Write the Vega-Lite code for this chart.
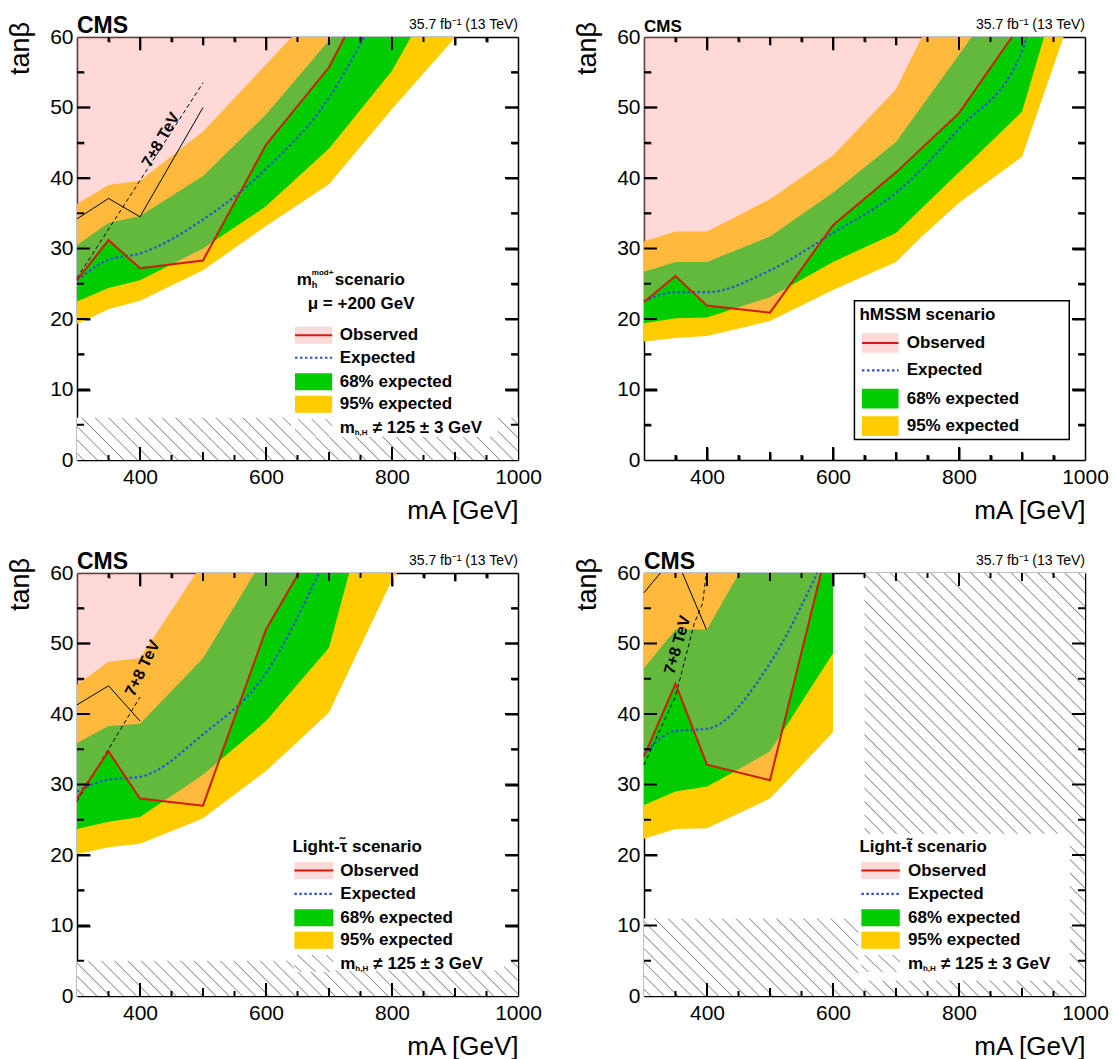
{
"$schema": "https://vega.github.io/schema/vega-lite/v6.json",
"padding": {"left": 7, "top": 15, "right": 5, "bottom": 5},
"background": "white",
"config": {"font": "Liberation Sans", "view": {"stroke": null}, "axis": {"labelFont": "Liberation Sans", "titleFont": "Liberation Sans", "labelColor": "black", "titleColor": "black", "domainColor": "black", "domainWidth": 1.5, "tickColor": "black", "tickWidth": 2, "grid": false, "zindex": 1}},
"datasets": {
"bands": [
{"p":1,"b":95,"m":300,"lo":19.3,"hi":36.3},{"p":1,"b":95,"m":350,"lo":21.4,"hi":39.0},{"p":1,"b":95,"m":400,"lo":22.6,"hi":39.6},{"p":1,"b":95,"m":500,"lo":26.9,"hi":46.6},{"p":1,"b":95,"m":600,"lo":33.2,"hi":56.1},{"p":1,"b":95,"m":641,"lo":35.6,"hi":60},{"p":1,"b":95,"m":700,"lo":39.1,"hi":60},{"p":1,"b":95,"m":800,"lo":49.8,"hi":60},{"p":1,"b":95,"m":901,"lo":60,"hi":60},
{"p":1,"b":68,"m":300,"lo":22.5,"hi":30.5},{"p":1,"b":68,"m":350,"lo":24.4,"hi":33.6},{"p":1,"b":68,"m":400,"lo":25.5,"hi":34.6},{"p":1,"b":68,"m":500,"lo":30.0,"hi":40.3},{"p":1,"b":68,"m":600,"lo":36.0,"hi":49.0},{"p":1,"b":68,"m":700,"lo":44.2,"hi":59.5},{"p":1,"b":68,"m":705,"lo":44.7,"hi":60},{"p":1,"b":68,"m":800,"lo":55.2,"hi":60},{"p":1,"b":68,"m":830,"lo":60,"hi":60},
{"p":2,"b":95,"m":300,"lo":16.8,"hi":31},{"p":2,"b":95,"m":350,"lo":17.3,"hi":32.4},{"p":2,"b":95,"m":400,"lo":17.6,"hi":32.4},{"p":2,"b":95,"m":500,"lo":19.7,"hi":37},{"p":2,"b":95,"m":600,"lo":24.1,"hi":43.2},{"p":2,"b":95,"m":700,"lo":28.1,"hi":52.6},{"p":2,"b":95,"m":741,"lo":31.7,"hi":60},{"p":2,"b":95,"m":800,"lo":36.5,"hi":60},{"p":2,"b":95,"m":900,"lo":43,"hi":60},{"p":2,"b":95,"m":966,"lo":60,"hi":60},
{"p":2,"b":68,"m":300,"lo":19.4,"hi":26.7},{"p":2,"b":68,"m":350,"lo":20.1,"hi":28.1},{"p":2,"b":68,"m":400,"lo":20.2,"hi":28.1},{"p":2,"b":68,"m":500,"lo":23.1,"hi":31.7},{"p":2,"b":68,"m":600,"lo":28.1,"hi":37.9},{"p":2,"b":68,"m":700,"lo":32.2,"hi":45.1},{"p":2,"b":68,"m":800,"lo":40.8,"hi":57.5},{"p":2,"b":68,"m":820,"lo":42.5,"hi":60},{"p":2,"b":68,"m":900,"lo":49.4,"hi":60},{"p":2,"b":68,"m":935,"lo":60,"hi":60},
{"p":3,"b":95,"m":300,"lo":20.1,"hi":44.1},{"p":3,"b":95,"m":350,"lo":21.1,"hi":47.4},{"p":3,"b":95,"m":400,"lo":21.6,"hi":47.9},{"p":3,"b":95,"m":489,"lo":24.8,"hi":60},{"p":3,"b":95,"m":500,"lo":25.2,"hi":60},{"p":3,"b":95,"m":600,"lo":31.9,"hi":60},{"p":3,"b":95,"m":700,"lo":40.2,"hi":60},{"p":3,"b":95,"m":800,"lo":59,"hi":60},{"p":3,"b":95,"m":808,"lo":60,"hi":60},
{"p":3,"b":68,"m":300,"lo":23.7,"hi":35.9},{"p":3,"b":68,"m":350,"lo":24.7,"hi":38.3},{"p":3,"b":68,"m":400,"lo":25.4,"hi":38.6},{"p":3,"b":68,"m":500,"lo":31.4,"hi":47.9},{"p":3,"b":68,"m":582,"lo":37.6,"hi":60},{"p":3,"b":68,"m":600,"lo":39,"hi":60},{"p":3,"b":68,"m":700,"lo":49.4,"hi":60},{"p":3,"b":68,"m":732,"lo":60,"hi":60},
{"p":4,"b":95,"m":300,"lo":22.3,"hi":60},{"p":4,"b":95,"m":350,"lo":23.7,"hi":60},{"p":4,"b":95,"m":400,"lo":23.8,"hi":60},{"p":4,"b":95,"m":500,"lo":28,"hi":60},{"p":4,"b":95,"m":600,"lo":37.4,"hi":60},
{"p":4,"b":68,"m":300,"lo":27.1,"hi":46.5},{"p":4,"b":68,"m":350,"lo":29,"hi":52},{"p":4,"b":68,"m":400,"lo":29.7,"hi":52},{"p":4,"b":68,"m":451,"lo":32.2,"hi":60},{"p":4,"b":68,"m":500,"lo":34.7,"hi":60},{"p":4,"b":68,"m":600,"lo":48.6,"hi":60}
],
"obs": [
{"p":1,"m":300,"t":25.5},{"p":1,"m":350,"t":31.2},{"p":1,"m":400,"t":27.2},{"p":1,"m":500,"t":28.3},{"p":1,"m":600,"t":44.7},{"p":1,"m":700,"t":55.7},{"p":1,"m":725,"t":60},
{"p":2,"m":300,"t":22.4},{"p":2,"m":350,"t":26.1},{"p":2,"m":400,"t":21.9},{"p":2,"m":500,"t":20.9},{"p":2,"m":600,"t":33.3},{"p":2,"m":700,"t":40.8},{"p":2,"m":800,"t":49.2},{"p":2,"m":884,"t":60},
{"p":3,"m":300,"t":28},{"p":3,"m":350,"t":34.7},{"p":3,"m":400,"t":28},{"p":3,"m":500,"t":27},{"p":3,"m":600,"t":52},{"p":3,"m":652,"t":60},
{"p":4,"m":300,"t":34},{"p":4,"m":350,"t":44.3},{"p":4,"m":400,"t":32.8},{"p":4,"m":500,"t":30.6},{"p":4,"m":581,"t":60}
],
"exp": [
{"p":1,"m":300,"t":25.5},{"p":1,"m":350,"t":28.4},{"p":1,"m":400,"t":29.3},{"p":1,"m":500,"t":34.1},{"p":1,"m":600,"t":41.3},{"p":1,"m":700,"t":51.4},{"p":1,"m":756,"t":60},
{"p":2,"m":300,"t":22.5},{"p":2,"m":350,"t":23.8},{"p":2,"m":400,"t":23.8},{"p":2,"m":500,"t":26.9},{"p":2,"m":600,"t":32.2},{"p":2,"m":700,"t":37.9},{"p":2,"m":800,"t":47},{"p":2,"m":900,"t":58},{"p":2,"m":907,"t":60},
{"p":3,"m":300,"t":29},{"p":3,"m":350,"t":30.7},{"p":3,"m":400,"t":31.1},{"p":3,"m":500,"t":37.1},{"p":3,"m":600,"t":45.8},{"p":3,"m":684,"t":60},
{"p":4,"m":300,"t":34.3},{"p":4,"m":350,"t":37.6},{"p":4,"m":400,"t":37.9},{"p":4,"m":500,"t":47.2},{"p":4,"m":575,"t":60}
],
"old": [
{"p":1,"k":"s","m":300,"t":34.2},{"p":1,"k":"s","m":350,"t":37.1},{"p":1,"k":"s","m":400,"t":34.5},{"p":1,"k":"s","m":500,"t":50},
{"p":1,"k":"d","m":300,"t":25.8},{"p":1,"k":"d","m":500,"t":53.5},
{"p":3,"k":"s","m":300,"t":41.3},{"p":3,"k":"s","m":350,"t":44},{"p":3,"k":"s","m":400,"t":39},
{"p":3,"k":"d","m":300,"t":27.6},{"p":3,"k":"d","m":400,"t":42.4},
{"p":4,"k":"s1","m":300,"t":57.2},{"p":4,"k":"s1","m":326,"t":60},
{"p":4,"k":"s2","m":361,"t":60},{"p":4,"k":"s2","m":399,"t":52},
{"p":4,"k":"d","m":300,"t":32.8},{"p":4,"k":"d","m":350,"t":42.5},{"p":4,"k":"d","m":380,"t":52.9},{"p":4,"k":"d","m":393,"t":55.7},{"p":4,"k":"d","m":399,"t":60}
],
"hatch": [
{"r":"a","m1":300,"m2":1000,"t1":0,"t2":6},
{"r":"c","m1":300,"m2":1000,"t1":0,"t2":5},
{"r":"d1","m1":300,"m2":650,"t1":0,"t2":11},
{"r":"d2","m1":650,"m2":1000,"t1":0,"t2":60}
]
},
"columns": 2,
"bounds": "flush",
"spacing": {"row": 113, "column": 126},
"concat": [
{
"width": 441, "height": 423,
"resolve": {"axis": {"x": "independent", "y": "independent"}},
"layer": [
{"data": {"name": "hatch"}, "transform": [{"filter": "datum.r == 'a'"}],
 "mark": {"type": "rect", "fill": {"gradient": "linear", "x1": 0, "y1": 1, "x2": 1.0859, "y2": 0.8959, "stops": [
{"offset":0.0114,"color":"#fff"},{"offset":0.0139,"color":"#8c8c8c"},{"offset":0.0164,"color":"#fff"},
{"offset":0.0392,"color":"#fff"},{"offset":0.0417,"color":"#8c8c8c"},{"offset":0.0442,"color":"#fff"},
{"offset":0.0669,"color":"#fff"},{"offset":0.0694,"color":"#8c8c8c"},{"offset":0.0719,"color":"#fff"},
{"offset":0.0947,"color":"#fff"},{"offset":0.0972,"color":"#8c8c8c"},{"offset":0.0997,"color":"#fff"},
{"offset":0.1225,"color":"#fff"},{"offset":0.1250,"color":"#8c8c8c"},{"offset":0.1275,"color":"#fff"},
{"offset":0.1503,"color":"#fff"},{"offset":0.1528,"color":"#8c8c8c"},{"offset":0.1553,"color":"#fff"},
{"offset":0.1781,"color":"#fff"},{"offset":0.1806,"color":"#8c8c8c"},{"offset":0.1831,"color":"#fff"},
{"offset":0.2058,"color":"#fff"},{"offset":0.2083,"color":"#8c8c8c"},{"offset":0.2108,"color":"#fff"},
{"offset":0.2336,"color":"#fff"},{"offset":0.2361,"color":"#8c8c8c"},{"offset":0.2386,"color":"#fff"},
{"offset":0.2614,"color":"#fff"},{"offset":0.2639,"color":"#8c8c8c"},{"offset":0.2664,"color":"#fff"},
{"offset":0.2892,"color":"#fff"},{"offset":0.2917,"color":"#8c8c8c"},{"offset":0.2942,"color":"#fff"},
{"offset":0.3169,"color":"#fff"},{"offset":0.3194,"color":"#8c8c8c"},{"offset":0.3219,"color":"#fff"},
{"offset":0.3447,"color":"#fff"},{"offset":0.3472,"color":"#8c8c8c"},{"offset":0.3497,"color":"#fff"},
{"offset":0.3725,"color":"#fff"},{"offset":0.3750,"color":"#8c8c8c"},{"offset":0.3775,"color":"#fff"},
{"offset":0.4003,"color":"#fff"},{"offset":0.4028,"color":"#8c8c8c"},{"offset":0.4053,"color":"#fff"},
{"offset":0.4281,"color":"#fff"},{"offset":0.4306,"color":"#8c8c8c"},{"offset":0.4331,"color":"#fff"},
{"offset":0.4558,"color":"#fff"},{"offset":0.4583,"color":"#8c8c8c"},{"offset":0.4608,"color":"#fff"},
{"offset":0.4836,"color":"#fff"},{"offset":0.4861,"color":"#8c8c8c"},{"offset":0.4886,"color":"#fff"},
{"offset":0.5114,"color":"#fff"},{"offset":0.5139,"color":"#8c8c8c"},{"offset":0.5164,"color":"#fff"},
{"offset":0.5392,"color":"#fff"},{"offset":0.5417,"color":"#8c8c8c"},{"offset":0.5442,"color":"#fff"},
{"offset":0.5669,"color":"#fff"},{"offset":0.5694,"color":"#8c8c8c"},{"offset":0.5719,"color":"#fff"},
{"offset":0.5947,"color":"#fff"},{"offset":0.5972,"color":"#8c8c8c"},{"offset":0.5997,"color":"#fff"},
{"offset":0.6225,"color":"#fff"},{"offset":0.6250,"color":"#8c8c8c"},{"offset":0.6275,"color":"#fff"},
{"offset":0.6503,"color":"#fff"},{"offset":0.6528,"color":"#8c8c8c"},{"offset":0.6553,"color":"#fff"},
{"offset":0.6781,"color":"#fff"},{"offset":0.6806,"color":"#8c8c8c"},{"offset":0.6831,"color":"#fff"},
{"offset":0.7058,"color":"#fff"},{"offset":0.7083,"color":"#8c8c8c"},{"offset":0.7108,"color":"#fff"},
{"offset":0.7336,"color":"#fff"},{"offset":0.7361,"color":"#8c8c8c"},{"offset":0.7386,"color":"#fff"},
{"offset":0.7614,"color":"#fff"},{"offset":0.7639,"color":"#8c8c8c"},{"offset":0.7664,"color":"#fff"},
{"offset":0.7892,"color":"#fff"},{"offset":0.7917,"color":"#8c8c8c"},{"offset":0.7942,"color":"#fff"},
{"offset":0.8169,"color":"#fff"},{"offset":0.8194,"color":"#8c8c8c"},{"offset":0.8219,"color":"#fff"},
{"offset":0.8447,"color":"#fff"},{"offset":0.8472,"color":"#8c8c8c"},{"offset":0.8497,"color":"#fff"},
{"offset":0.8725,"color":"#fff"},{"offset":0.8750,"color":"#8c8c8c"},{"offset":0.8775,"color":"#fff"},
{"offset":0.9003,"color":"#fff"},{"offset":0.9028,"color":"#8c8c8c"},{"offset":0.9053,"color":"#fff"},
{"offset":0.9281,"color":"#fff"},{"offset":0.9306,"color":"#8c8c8c"},{"offset":0.9331,"color":"#fff"},
{"offset":0.9558,"color":"#fff"},{"offset":0.9583,"color":"#8c8c8c"},{"offset":0.9608,"color":"#fff"},
{"offset":0.9836,"color":"#fff"},{"offset":0.9861,"color":"#8c8c8c"},{"offset":0.9886,"color":"#fff"}]}},
 "encoding": {"x": {"field": "m1", "type": "quantitative", "axis": null}, "x2": {"field": "m2"}, "y": {"field": "t1", "type": "quantitative", "axis": null}, "y2": {"field": "t2"}}},
{"data": {"name": "bands"}, "transform": [{"filter": "datum.p == 1 && datum.b == 95"}],
 "mark": {"type": "area", "color": "#ffcc00"},
 "encoding": {
  "x": {"field": "m", "type": "quantitative", "scale": {"domain": [300, 1000], "nice": false, "zero": false},
   "axis": {"orient": "bottom", "values": [400,600,800,1000], "format": "d", "ticks": false, "domain": true, "labelPadding": 6, "labelFontSize": 21, "labelFlush": false, "labelOverlap": false, "title": "mA [GeV]", "titleFontSize": 26, "titleFontWeight": "normal", "titleAnchor": "end", "titleAlign": "right", "titleBaseline": "alphabetic", "titleX": 441, "titleY": 58}},
  "y": {"field": "lo", "type": "quantitative", "scale": {"domain": [0, 60], "nice": false, "zero": false},
   "axis": {"orient": "left", "values": [0,10,20,30,40,50,60], "ticks": false, "domain": true, "labelPadding": 4, "labelFontSize": 21, "labelFlush": false, "labelOverlap": false, "title": null}},
  "y2": {"field": "hi"}}},
{"data": {"name": "bands"}, "transform": [{"filter": "datum.p == 1 && datum.b == 68"}],
 "mark": {"type": "area", "color": "#00cc00"},
 "encoding": {
  "x": {"field": "m", "type": "quantitative", "axis": {"orient": "top", "domain": true, "ticks": false, "labels": false, "title": null}},
  "y": {"field": "lo", "type": "quantitative", "axis": {"orient": "right", "domain": true, "ticks": false, "labels": false, "title": null}},
  "y2": {"field": "hi"}}},
{"data": {"name": "obs"}, "transform": [{"filter": "datum.p == 1"}],
 "mark": {"type": "area", "color": "#ff9b9b", "opacity": 0.39},
 "encoding": {"x": {"field": "m", "type": "quantitative", "axis": {"orient": "bottom", "values": [400,600,800], "offset": -13, "tickSize": 13, "domain": false, "labels": false, "title": null}}, "y": {"field": "t", "type": "quantitative", "axis": {"orient": "left", "values": [10,20,30,40,50], "offset": -13, "tickSize": 13, "domain": false, "labels": false, "title": null}}, "y2": {"datum": 60}}},
{"data": {"name": "old"}, "transform": [{"filter": "datum.p == 1 && datum.k != 'd'"}],
 "mark": {"type": "line", "color": "black", "strokeWidth": 1},
 "encoding": {"x": {"field": "m", "type": "quantitative", "axis": null}, "y": {"field": "t", "type": "quantitative", "axis": null}, "detail": {"field": "k"}}},
{"data": {"name": "old"}, "transform": [{"filter": "datum.p == 1 && datum.k == 'd'"}],
 "mark": {"type": "line", "color": "black", "strokeWidth": 1, "strokeDash": [4, 3]},
 "encoding": {"x": {"field": "m", "type": "quantitative", "axis": null}, "y": {"field": "t", "type": "quantitative", "axis": null}}},
{"data": {"name": "exp"}, "transform": [{"filter": "datum.p == 1"}],
 "mark": {"type": "line", "color": "#2850d8", "strokeWidth": 2.2, "strokeDash": [2.5, 2.5], "interpolate": "monotone"},
 "encoding": {"x": {"field": "m", "type": "quantitative", "axis": {"orient": "bottom", "values": [500,700,900], "offset": -8, "tickSize": 8, "domain": false, "labels": false, "title": null}}, "y": {"field": "t", "type": "quantitative", "axis": {"orient": "left", "values": [5,15,25,35,45,55], "offset": -7, "tickSize": 7, "domain": false, "labels": false, "title": null}}}},
{"data": {"name": "obs"}, "transform": [{"filter": "datum.p == 1"}],
 "mark": {"type": "line", "color": "#d01c0c", "strokeWidth": 2},
 "encoding": {"x": {"field": "m", "type": "quantitative", "axis": {"orient": "top", "values": [400,600,800], "offset": -13, "tickSize": 13, "domain": false, "labels": false, "title": null}}, "y": {"field": "t", "type": "quantitative", "axis": {"orient": "right", "values": [10,20,30,40,50], "offset": -13, "tickSize": 13, "domain": false, "labels": false, "title": null}}}},
{"data": {"values": [{}]}, "mark": {"type": "text", "text": "7+8 TeV", "angle": -60, "fontWeight": "bold", "fontSize": 16, "align": "center", "baseline": "middle"}, "encoding": {"x": {"datum": 433, "axis": {"orient": "top", "values": [500,700,900], "offset": -8, "tickSize": 8, "domain": false, "labels": false, "title": null}}, "y": {"datum": 45.4, "axis": {"orient": "right", "values": [5,15,25,35,45,55], "offset": -7, "tickSize": 7, "domain": false, "labels": false, "title": null}}}},
{"data": {"values": [{}]}, "mark": {"type": "text", "text": "CMS", "fontWeight": "bold", "fontSize": 23, "align": "left", "baseline": "alphabetic", "dy": -4}, "encoding": {"x": {"datum": 300, "axis": {"orient": "bottom", "values": [350,450,550,650,750,850,950], "offset": -5, "tickSize": 5, "domain": false, "labels": false, "title": null}}, "y": {"datum": 60, "axis": null}}},
{"data": {"values": [{}]}, "mark": {"type": "text", "text": "35.7 fb⁻¹ (13 TeV)", "fontSize": 14, "align": "right", "baseline": "alphabetic", "dy": -8}, "encoding": {"x": {"datum": 1000, "axis": {"orient": "top", "values": [350,450,550,650,750,850,950], "offset": -5, "tickSize": 5, "domain": false, "labels": false, "title": null}}, "y": {"datum": 60, "axis": null}}},
{"data": {"values": [{}]}, "mark": {"type": "text", "text": "tanβ", "fontSize": 27, "angle": -90, "align": "right", "baseline": "alphabetic"}, "encoding": {"x": {"datum": 224, "axis": null}, "y": {"datum": 62.13, "axis": null}}},
{"data": {"values": [{}]}, "mark": {"type": "rect", "fill": "white"}, "encoding": {"x": {"datum": 640, "axis": null}, "x2": {"datum": 968}, "y": {"datum": 3.3, "axis": null}, "y2": {"datum": 27.5}}},
{"data": {"values": [{}]}, "mark": {"type": "rect", "fill": "#ff9b9b", "opacity": 0.39}, "encoding": {"x": {"datum": 646, "axis": null}, "x2": {"datum": 705}, "y": {"datum": 16.5, "axis": null}, "y2": {"datum": 18.9}}},
{"data": {"values": [{}]}, "mark": {"type": "rule", "color": "#d01c0c", "strokeWidth": 2}, "encoding": {"x": {"datum": 646, "axis": null}, "x2": {"datum": 705}, "y": {"datum": 17.7, "axis": null}}},
{"data": {"values": [{}]}, "mark": {"type": "rule", "color": "#2850d8", "strokeWidth": 2.2, "strokeDash": [2.5, 2.5]}, "encoding": {"x": {"datum": 646, "axis": null}, "x2": {"datum": 705}, "y": {"datum": 14.5, "axis": null}}},
{"data": {"values": [{}]}, "mark": {"type": "rect", "fill": "#00cc00"}, "encoding": {"x": {"datum": 646, "axis": null}, "x2": {"datum": 705}, "y": {"datum": 9.9, "axis": null}, "y2": {"datum": 12.3}}},
{"data": {"values": [{}]}, "mark": {"type": "rect", "fill": "#ffcc00"}, "encoding": {"x": {"datum": 646, "axis": null}, "x2": {"datum": 705}, "y": {"datum": 6.7, "axis": null}, "y2": {"datum": 9.1}}},
{"data": {"values": [{}]}, "mark": {"type": "rect", "fill": {"gradient": "linear", "x1": 0, "y1": 1, "x2": 1.205, "y2": 0.447, "stops": [{"offset":0.103,"color":"#fff"},{"offset":0.125,"color":"#8a8fb0"},{"offset":0.147,"color":"#fff"},{"offset":0.353,"color":"#fff"},{"offset":0.375,"color":"#8a8fb0"},{"offset":0.397,"color":"#fff"},{"offset":0.603,"color":"#fff"},{"offset":0.625,"color":"#8a8fb0"},{"offset":0.647,"color":"#fff"},{"offset":0.853,"color":"#fff"},{"offset":0.875,"color":"#8a8fb0"},{"offset":0.897,"color":"#fff"}]}}, "encoding": {"x": {"datum": 646, "axis": null}, "x2": {"datum": 705}, "y": {"datum": 3.4, "axis": null}, "y2": {"datum": 5.8}}},
{"data": {"values": [{}]}, "mark": {"type": "text", "text": "m", "fontWeight": "bold", "fontSize": 17, "align": "left", "baseline": "middle"}, "encoding": {"x": {"datum": 649, "axis": null}, "y": {"datum": 25.5, "axis": null}}},
{"data": {"values": [{}]}, "mark": {"type": "text", "text": "h", "fontWeight": "bold", "fontSize": 9, "align": "left", "baseline": "middle", "dx": 15, "dy": 5}, "encoding": {"x": {"datum": 649, "axis": null}, "y": {"datum": 25.5, "axis": null}}},
{"data": {"values": [{}]}, "mark": {"type": "text", "text": "mod+", "fontWeight": "bold", "fontSize": 8, "align": "left", "baseline": "middle", "dx": 15, "dy": -7}, "encoding": {"x": {"datum": 649, "axis": null}, "y": {"datum": 25.5, "axis": null}}},
{"data": {"values": [{}]}, "mark": {"type": "text", "text": "scenario", "fontWeight": "bold", "fontSize": 17, "align": "left", "baseline": "middle", "dx": 38}, "encoding": {"x": {"datum": 649, "axis": null}, "y": {"datum": 25.5, "axis": null}}},
{"data": {"values": [{}]}, "mark": {"type": "text", "text": "μ = +200 GeV", "fontWeight": "bold", "fontSize": 17, "align": "center", "baseline": "middle"}, "encoding": {"x": {"datum": 751, "axis": null}, "y": {"datum": 22.1, "axis": null}}},
{"data": {"values": [{}]}, "mark": {"type": "text", "text": "Observed", "fontWeight": "bold", "fontSize": 17, "align": "left", "baseline": "middle"}, "encoding": {"x": {"datum": 717, "axis": null}, "y": {"datum": 17.7, "axis": null}}},
{"data": {"values": [{}]}, "mark": {"type": "text", "text": "Expected", "fontWeight": "bold", "fontSize": 17, "align": "left", "baseline": "middle"}, "encoding": {"x": {"datum": 717, "axis": null}, "y": {"datum": 14.5, "axis": null}}},
{"data": {"values": [{}]}, "mark": {"type": "text", "text": "68% expected", "fontWeight": "bold", "fontSize": 17, "align": "left", "baseline": "middle"}, "encoding": {"x": {"datum": 717, "axis": null}, "y": {"datum": 11.1, "axis": null}}},
{"data": {"values": [{}]}, "mark": {"type": "text", "text": "95% expected", "fontWeight": "bold", "fontSize": 17, "align": "left", "baseline": "middle"}, "encoding": {"x": {"datum": 717, "axis": null}, "y": {"datum": 7.9, "axis": null}}},
{"data": {"values": [{}]}, "mark": {"type": "text", "text": "m", "fontWeight": "bold", "fontSize": 17, "align": "left", "baseline": "middle"}, "encoding": {"x": {"datum": 717, "axis": null}, "y": {"datum": 4.6, "axis": null}}},
{"data": {"values": [{}]}, "mark": {"type": "text", "text": "h,H", "fontWeight": "bold", "fontSize": 8, "align": "left", "baseline": "middle", "dx": 15, "dy": 5}, "encoding": {"x": {"datum": 717, "axis": null}, "y": {"datum": 4.6, "axis": null}}},
{"data": {"values": [{}]}, "mark": {"type": "text", "text": "≠ 125 ± 3 GeV", "fontWeight": "bold", "fontSize": 17, "align": "left", "baseline": "middle", "dx": 33}, "encoding": {"x": {"datum": 717, "axis": null}, "y": {"datum": 4.6, "axis": null}}},
{"data": {"values": [{"v":400},{"v":600},{"v":800}]}, "mark": {"type": "rule", "color": "black", "strokeWidth": 2}, "encoding": {"x": {"field": "v", "type": "quantitative", "axis": null}, "y": {"datum": 0, "axis": null}, "y2": {"datum": 1.844}}},
{"data": {"values": [{"v":400},{"v":600},{"v":800}]}, "mark": {"type": "rule", "color": "black", "strokeWidth": 2}, "encoding": {"x": {"field": "v", "type": "quantitative", "axis": null}, "y": {"datum": 60, "axis": null}, "y2": {"datum": 58.156}}},
{"data": {"values": [{"v":500},{"v":700},{"v":900}]}, "mark": {"type": "rule", "color": "black", "strokeWidth": 2}, "encoding": {"x": {"field": "v", "type": "quantitative", "axis": null}, "y": {"datum": 0, "axis": null}, "y2": {"datum": 1.135}}},
{"data": {"values": [{"v":500},{"v":700},{"v":900}]}, "mark": {"type": "rule", "color": "black", "strokeWidth": 2}, "encoding": {"x": {"field": "v", "type": "quantitative", "axis": null}, "y": {"datum": 60, "axis": null}, "y2": {"datum": 58.865}}},
{"data": {"values": [{"v":350},{"v":450},{"v":550},{"v":650},{"v":750},{"v":850},{"v":950}]}, "mark": {"type": "rule", "color": "black", "strokeWidth": 2}, "encoding": {"x": {"field": "v", "type": "quantitative", "axis": null}, "y": {"datum": 0, "axis": null}, "y2": {"datum": 0.709}}},
{"data": {"values": [{"v":350},{"v":450},{"v":550},{"v":650},{"v":750},{"v":850},{"v":950}]}, "mark": {"type": "rule", "color": "black", "strokeWidth": 2}, "encoding": {"x": {"field": "v", "type": "quantitative", "axis": null}, "y": {"datum": 60, "axis": null}, "y2": {"datum": 59.291}}},
{"data": {"values": [{"v":10},{"v":20},{"v":30},{"v":40},{"v":50}]}, "mark": {"type": "rule", "color": "black", "strokeWidth": 2}, "encoding": {"y": {"field": "v", "type": "quantitative", "axis": null}, "x": {"datum": 300, "axis": null}, "x2": {"datum": 320.6}}},
{"data": {"values": [{"v":10},{"v":20},{"v":30},{"v":40},{"v":50}]}, "mark": {"type": "rule", "color": "black", "strokeWidth": 2}, "encoding": {"y": {"field": "v", "type": "quantitative", "axis": null}, "x": {"datum": 1000, "axis": null}, "x2": {"datum": 979.4}}},
{"data": {"values": [{"v":5},{"v":15},{"v":25},{"v":35},{"v":45},{"v":55}]}, "mark": {"type": "rule", "color": "black", "strokeWidth": 2}, "encoding": {"y": {"field": "v", "type": "quantitative", "axis": null}, "x": {"datum": 300, "axis": null}, "x2": {"datum": 311.1}}},
{"data": {"values": [{"v":5},{"v":15},{"v":25},{"v":35},{"v":45},{"v":55}]}, "mark": {"type": "rule", "color": "black", "strokeWidth": 2}, "encoding": {"y": {"field": "v", "type": "quantitative", "axis": null}, "x": {"datum": 1000, "axis": null}, "x2": {"datum": 988.9}}}
]
},
{
"width": 441, "height": 423,
"resolve": {"axis": {"x": "independent", "y": "independent"}},
"layer": [
{"data": {"name": "bands"}, "transform": [{"filter": "datum.p == 2 && datum.b == 95"}],
 "mark": {"type": "area", "color": "#ffcc00"},
 "encoding": {
  "x": {"field": "m", "type": "quantitative", "scale": {"domain": [300, 1000], "nice": false, "zero": false},
   "axis": {"orient": "bottom", "values": [400,600,800,1000], "format": "d", "ticks": false, "domain": true, "labelPadding": 6, "labelFontSize": 21, "labelFlush": false, "labelOverlap": false, "title": "mA [GeV]", "titleFontSize": 26, "titleFontWeight": "normal", "titleAnchor": "end", "titleAlign": "right", "titleBaseline": "alphabetic", "titleX": 441, "titleY": 58}},
  "y": {"field": "lo", "type": "quantitative", "scale": {"domain": [0, 60], "nice": false, "zero": false},
   "axis": {"orient": "left", "values": [0,10,20,30,40,50,60], "ticks": false, "domain": true, "labelPadding": 4, "labelFontSize": 21, "labelFlush": false, "labelOverlap": false, "title": null}},
  "y2": {"field": "hi"}}},
{"data": {"name": "bands"}, "transform": [{"filter": "datum.p == 2 && datum.b == 68"}],
 "mark": {"type": "area", "color": "#00cc00"},
 "encoding": {
  "x": {"field": "m", "type": "quantitative", "axis": {"orient": "top", "domain": true, "ticks": false, "labels": false, "title": null}},
  "y": {"field": "lo", "type": "quantitative", "axis": {"orient": "right", "domain": true, "ticks": false, "labels": false, "title": null}},
  "y2": {"field": "hi"}}},
{"data": {"name": "obs"}, "transform": [{"filter": "datum.p == 2"}],
 "mark": {"type": "area", "color": "#ff9b9b", "opacity": 0.39},
 "encoding": {"x": {"field": "m", "type": "quantitative", "axis": {"orient": "bottom", "values": [400,600,800], "offset": -13, "tickSize": 13, "domain": false, "labels": false, "title": null}}, "y": {"field": "t", "type": "quantitative", "axis": {"orient": "left", "values": [10,20,30,40,50], "offset": -13, "tickSize": 13, "domain": false, "labels": false, "title": null}}, "y2": {"datum": 60}}},
{"data": {"name": "exp"}, "transform": [{"filter": "datum.p == 2"}],
 "mark": {"type": "line", "color": "#2850d8", "strokeWidth": 2.2, "strokeDash": [2.5, 2.5], "interpolate": "monotone"},
 "encoding": {"x": {"field": "m", "type": "quantitative", "axis": {"orient": "bottom", "values": [500,700,900], "offset": -8, "tickSize": 8, "domain": false, "labels": false, "title": null}}, "y": {"field": "t", "type": "quantitative", "axis": {"orient": "left", "values": [5,15,25,35,45,55], "offset": -7, "tickSize": 7, "domain": false, "labels": false, "title": null}}}},
{"data": {"name": "obs"}, "transform": [{"filter": "datum.p == 2"}],
 "mark": {"type": "line", "color": "#d01c0c", "strokeWidth": 2},
 "encoding": {"x": {"field": "m", "type": "quantitative", "axis": {"orient": "top", "values": [400,600,800], "offset": -13, "tickSize": 13, "domain": false, "labels": false, "title": null}}, "y": {"field": "t", "type": "quantitative", "axis": {"orient": "right", "values": [10,20,30,40,50], "offset": -13, "tickSize": 13, "domain": false, "labels": false, "title": null}}}},
{"data": {"values": [{}]}, "mark": {"type": "text", "text": "CMS", "fontWeight": "bold", "fontSize": 17, "align": "left", "baseline": "alphabetic", "dy": -5}, "encoding": {"x": {"datum": 300, "axis": {"orient": "top", "values": [500,700,900], "offset": -8, "tickSize": 8, "domain": false, "labels": false, "title": null}}, "y": {"datum": 60, "axis": {"orient": "right", "values": [5,15,25,35,45,55], "offset": -7, "tickSize": 7, "domain": false, "labels": false, "title": null}}}},
{"data": {"values": [{}]}, "mark": {"type": "text", "text": "35.7 fb⁻¹ (13 TeV)", "fontSize": 14, "align": "right", "baseline": "alphabetic", "dy": -8}, "encoding": {"x": {"datum": 1000, "axis": {"orient": "bottom", "values": [350,450,550,650,750,850,950], "offset": -5, "tickSize": 5, "domain": false, "labels": false, "title": null}}, "y": {"datum": 60, "axis": null}}},
{"data": {"values": [{}]}, "mark": {"type": "text", "text": "tanβ", "fontSize": 27, "angle": -90, "align": "right", "baseline": "alphabetic"}, "encoding": {"x": {"datum": 224, "axis": {"orient": "top", "values": [350,450,550,650,750,850,950], "offset": -5, "tickSize": 5, "domain": false, "labels": false, "title": null}}, "y": {"datum": 62.13, "axis": null}}},
{"data": {"values": [{}]}, "mark": {"type": "rect", "fill": "white", "stroke": "black", "strokeWidth": 1.5}, "encoding": {"x": {"datum": 634, "axis": null}, "x2": {"datum": 975}, "y": {"datum": 2.9, "axis": null}, "y2": {"datum": 22.6}}},
{"data": {"values": [{}]}, "mark": {"type": "text", "text": "hMSSM scenario", "fontWeight": "bold", "fontSize": 17, "align": "left", "baseline": "middle"}, "encoding": {"x": {"datum": 642, "axis": null}, "y": {"datum": 20.6, "axis": null}}},
{"data": {"values": [{}]}, "mark": {"type": "rect", "fill": "#ff9b9b", "opacity": 0.39}, "encoding": {"x": {"datum": 646, "axis": null}, "x2": {"datum": 704}, "y": {"datum": 15.2, "axis": null}, "y2": {"datum": 18.0}}},
{"data": {"values": [{}]}, "mark": {"type": "rule", "color": "#d01c0c", "strokeWidth": 2}, "encoding": {"x": {"datum": 646, "axis": null}, "x2": {"datum": 704}, "y": {"datum": 16.6, "axis": null}}},
{"data": {"values": [{}]}, "mark": {"type": "rule", "color": "#2850d8", "strokeWidth": 2.2, "strokeDash": [2.5, 2.5]}, "encoding": {"x": {"datum": 646, "axis": null}, "x2": {"datum": 704}, "y": {"datum": 12.7, "axis": null}}},
{"data": {"values": [{}]}, "mark": {"type": "rect", "fill": "#00cc00"}, "encoding": {"x": {"datum": 646, "axis": null}, "x2": {"datum": 704}, "y": {"datum": 7.3, "axis": null}, "y2": {"datum": 10.1}}},
{"data": {"values": [{}]}, "mark": {"type": "rect", "fill": "#ffcc00"}, "encoding": {"x": {"datum": 646, "axis": null}, "x2": {"datum": 704}, "y": {"datum": 3.4, "axis": null}, "y2": {"datum": 6.2}}},
{"data": {"values": [{}]}, "mark": {"type": "text", "text": "Observed", "fontWeight": "bold", "fontSize": 17, "align": "left", "baseline": "middle"}, "encoding": {"x": {"datum": 717, "axis": null}, "y": {"datum": 16.6, "axis": null}}},
{"data": {"values": [{}]}, "mark": {"type": "text", "text": "Expected", "fontWeight": "bold", "fontSize": 17, "align": "left", "baseline": "middle"}, "encoding": {"x": {"datum": 717, "axis": null}, "y": {"datum": 12.7, "axis": null}}},
{"data": {"values": [{}]}, "mark": {"type": "text", "text": "68% expected", "fontWeight": "bold", "fontSize": 17, "align": "left", "baseline": "middle"}, "encoding": {"x": {"datum": 717, "axis": null}, "y": {"datum": 8.7, "axis": null}}},
{"data": {"values": [{}]}, "mark": {"type": "text", "text": "95% expected", "fontWeight": "bold", "fontSize": 17, "align": "left", "baseline": "middle"}, "encoding": {"x": {"datum": 717, "axis": null}, "y": {"datum": 4.8, "axis": null}}},
{"data": {"values": [{"v":400},{"v":600},{"v":800}]}, "mark": {"type": "rule", "color": "black", "strokeWidth": 2}, "encoding": {"x": {"field": "v", "type": "quantitative", "axis": null}, "y": {"datum": 0, "axis": null}, "y2": {"datum": 1.844}}},
{"data": {"values": [{"v":400},{"v":600},{"v":800}]}, "mark": {"type": "rule", "color": "black", "strokeWidth": 2}, "encoding": {"x": {"field": "v", "type": "quantitative", "axis": null}, "y": {"datum": 60, "axis": null}, "y2": {"datum": 58.156}}},
{"data": {"values": [{"v":500},{"v":700},{"v":900}]}, "mark": {"type": "rule", "color": "black", "strokeWidth": 2}, "encoding": {"x": {"field": "v", "type": "quantitative", "axis": null}, "y": {"datum": 0, "axis": null}, "y2": {"datum": 1.135}}},
{"data": {"values": [{"v":500},{"v":700},{"v":900}]}, "mark": {"type": "rule", "color": "black", "strokeWidth": 2}, "encoding": {"x": {"field": "v", "type": "quantitative", "axis": null}, "y": {"datum": 60, "axis": null}, "y2": {"datum": 58.865}}},
{"data": {"values": [{"v":350},{"v":450},{"v":550},{"v":650},{"v":750},{"v":850},{"v":950}]}, "mark": {"type": "rule", "color": "black", "strokeWidth": 2}, "encoding": {"x": {"field": "v", "type": "quantitative", "axis": null}, "y": {"datum": 0, "axis": null}, "y2": {"datum": 0.709}}},
{"data": {"values": [{"v":350},{"v":450},{"v":550},{"v":650},{"v":750},{"v":850},{"v":950}]}, "mark": {"type": "rule", "color": "black", "strokeWidth": 2}, "encoding": {"x": {"field": "v", "type": "quantitative", "axis": null}, "y": {"datum": 60, "axis": null}, "y2": {"datum": 59.291}}},
{"data": {"values": [{"v":10},{"v":20},{"v":30},{"v":40},{"v":50}]}, "mark": {"type": "rule", "color": "black", "strokeWidth": 2}, "encoding": {"y": {"field": "v", "type": "quantitative", "axis": null}, "x": {"datum": 300, "axis": null}, "x2": {"datum": 320.6}}},
{"data": {"values": [{"v":10},{"v":20},{"v":30},{"v":40},{"v":50}]}, "mark": {"type": "rule", "color": "black", "strokeWidth": 2}, "encoding": {"y": {"field": "v", "type": "quantitative", "axis": null}, "x": {"datum": 1000, "axis": null}, "x2": {"datum": 979.4}}},
{"data": {"values": [{"v":5},{"v":15},{"v":25},{"v":35},{"v":45},{"v":55}]}, "mark": {"type": "rule", "color": "black", "strokeWidth": 2}, "encoding": {"y": {"field": "v", "type": "quantitative", "axis": null}, "x": {"datum": 300, "axis": null}, "x2": {"datum": 311.1}}},
{"data": {"values": [{"v":5},{"v":15},{"v":25},{"v":35},{"v":45},{"v":55}]}, "mark": {"type": "rule", "color": "black", "strokeWidth": 2}, "encoding": {"y": {"field": "v", "type": "quantitative", "axis": null}, "x": {"datum": 1000, "axis": null}, "x2": {"datum": 988.9}}}
]
},
{
"width": 441, "height": 423,
"resolve": {"axis": {"x": "independent", "y": "independent"}},
"layer": [
{"data": {"name": "hatch"}, "transform": [{"filter": "datum.r == 'c'"}],
 "mark": {"type": "rect", "fill": {"gradient": "linear", "x1": 0, "y1": 1, "x2": 1.0730, "y2": 0.9143, "stops": [
{"offset":0.0114,"color":"#fff"},{"offset":0.0139,"color":"#8c8c8c"},{"offset":0.0164,"color":"#fff"},
{"offset":0.0392,"color":"#fff"},{"offset":0.0417,"color":"#8c8c8c"},{"offset":0.0442,"color":"#fff"},
{"offset":0.0669,"color":"#fff"},{"offset":0.0694,"color":"#8c8c8c"},{"offset":0.0719,"color":"#fff"},
{"offset":0.0947,"color":"#fff"},{"offset":0.0972,"color":"#8c8c8c"},{"offset":0.0997,"color":"#fff"},
{"offset":0.1225,"color":"#fff"},{"offset":0.1250,"color":"#8c8c8c"},{"offset":0.1275,"color":"#fff"},
{"offset":0.1503,"color":"#fff"},{"offset":0.1528,"color":"#8c8c8c"},{"offset":0.1553,"color":"#fff"},
{"offset":0.1781,"color":"#fff"},{"offset":0.1806,"color":"#8c8c8c"},{"offset":0.1831,"color":"#fff"},
{"offset":0.2058,"color":"#fff"},{"offset":0.2083,"color":"#8c8c8c"},{"offset":0.2108,"color":"#fff"},
{"offset":0.2336,"color":"#fff"},{"offset":0.2361,"color":"#8c8c8c"},{"offset":0.2386,"color":"#fff"},
{"offset":0.2614,"color":"#fff"},{"offset":0.2639,"color":"#8c8c8c"},{"offset":0.2664,"color":"#fff"},
{"offset":0.2892,"color":"#fff"},{"offset":0.2917,"color":"#8c8c8c"},{"offset":0.2942,"color":"#fff"},
{"offset":0.3169,"color":"#fff"},{"offset":0.3194,"color":"#8c8c8c"},{"offset":0.3219,"color":"#fff"},
{"offset":0.3447,"color":"#fff"},{"offset":0.3472,"color":"#8c8c8c"},{"offset":0.3497,"color":"#fff"},
{"offset":0.3725,"color":"#fff"},{"offset":0.3750,"color":"#8c8c8c"},{"offset":0.3775,"color":"#fff"},
{"offset":0.4003,"color":"#fff"},{"offset":0.4028,"color":"#8c8c8c"},{"offset":0.4053,"color":"#fff"},
{"offset":0.4281,"color":"#fff"},{"offset":0.4306,"color":"#8c8c8c"},{"offset":0.4331,"color":"#fff"},
{"offset":0.4558,"color":"#fff"},{"offset":0.4583,"color":"#8c8c8c"},{"offset":0.4608,"color":"#fff"},
{"offset":0.4836,"color":"#fff"},{"offset":0.4861,"color":"#8c8c8c"},{"offset":0.4886,"color":"#fff"},
{"offset":0.5114,"color":"#fff"},{"offset":0.5139,"color":"#8c8c8c"},{"offset":0.5164,"color":"#fff"},
{"offset":0.5392,"color":"#fff"},{"offset":0.5417,"color":"#8c8c8c"},{"offset":0.5442,"color":"#fff"},
{"offset":0.5669,"color":"#fff"},{"offset":0.5694,"color":"#8c8c8c"},{"offset":0.5719,"color":"#fff"},
{"offset":0.5947,"color":"#fff"},{"offset":0.5972,"color":"#8c8c8c"},{"offset":0.5997,"color":"#fff"},
{"offset":0.6225,"color":"#fff"},{"offset":0.6250,"color":"#8c8c8c"},{"offset":0.6275,"color":"#fff"},
{"offset":0.6503,"color":"#fff"},{"offset":0.6528,"color":"#8c8c8c"},{"offset":0.6553,"color":"#fff"},
{"offset":0.6781,"color":"#fff"},{"offset":0.6806,"color":"#8c8c8c"},{"offset":0.6831,"color":"#fff"},
{"offset":0.7058,"color":"#fff"},{"offset":0.7083,"color":"#8c8c8c"},{"offset":0.7108,"color":"#fff"},
{"offset":0.7336,"color":"#fff"},{"offset":0.7361,"color":"#8c8c8c"},{"offset":0.7386,"color":"#fff"},
{"offset":0.7614,"color":"#fff"},{"offset":0.7639,"color":"#8c8c8c"},{"offset":0.7664,"color":"#fff"},
{"offset":0.7892,"color":"#fff"},{"offset":0.7917,"color":"#8c8c8c"},{"offset":0.7942,"color":"#fff"},
{"offset":0.8169,"color":"#fff"},{"offset":0.8194,"color":"#8c8c8c"},{"offset":0.8219,"color":"#fff"},
{"offset":0.8447,"color":"#fff"},{"offset":0.8472,"color":"#8c8c8c"},{"offset":0.8497,"color":"#fff"},
{"offset":0.8725,"color":"#fff"},{"offset":0.8750,"color":"#8c8c8c"},{"offset":0.8775,"color":"#fff"},
{"offset":0.9003,"color":"#fff"},{"offset":0.9028,"color":"#8c8c8c"},{"offset":0.9053,"color":"#fff"},
{"offset":0.9281,"color":"#fff"},{"offset":0.9306,"color":"#8c8c8c"},{"offset":0.9331,"color":"#fff"},
{"offset":0.9558,"color":"#fff"},{"offset":0.9583,"color":"#8c8c8c"},{"offset":0.9608,"color":"#fff"},
{"offset":0.9836,"color":"#fff"},{"offset":0.9861,"color":"#8c8c8c"},{"offset":0.9886,"color":"#fff"}]}},
 "encoding": {"x": {"field": "m1", "type": "quantitative", "axis": null}, "x2": {"field": "m2"}, "y": {"field": "t1", "type": "quantitative", "axis": null}, "y2": {"field": "t2"}}},
{"data": {"name": "bands"}, "transform": [{"filter": "datum.p == 3 && datum.b == 95"}],
 "mark": {"type": "area", "color": "#ffcc00"},
 "encoding": {
  "x": {"field": "m", "type": "quantitative", "scale": {"domain": [300, 1000], "nice": false, "zero": false},
   "axis": {"orient": "bottom", "values": [400,600,800,1000], "format": "d", "ticks": false, "domain": true, "labelPadding": 6, "labelFontSize": 21, "labelFlush": false, "labelOverlap": false, "title": "mA [GeV]", "titleFontSize": 26, "titleFontWeight": "normal", "titleAnchor": "end", "titleAlign": "right", "titleBaseline": "alphabetic", "titleX": 441, "titleY": 58}},
  "y": {"field": "lo", "type": "quantitative", "scale": {"domain": [0, 60], "nice": false, "zero": false},
   "axis": {"orient": "left", "values": [0,10,20,30,40,50,60], "ticks": false, "domain": true, "labelPadding": 4, "labelFontSize": 21, "labelFlush": false, "labelOverlap": false, "title": null}},
  "y2": {"field": "hi"}}},
{"data": {"name": "bands"}, "transform": [{"filter": "datum.p == 3 && datum.b == 68"}],
 "mark": {"type": "area", "color": "#00cc00"},
 "encoding": {
  "x": {"field": "m", "type": "quantitative", "axis": {"orient": "top", "domain": true, "ticks": false, "labels": false, "title": null}},
  "y": {"field": "lo", "type": "quantitative", "axis": {"orient": "right", "domain": true, "ticks": false, "labels": false, "title": null}},
  "y2": {"field": "hi"}}},
{"data": {"name": "obs"}, "transform": [{"filter": "datum.p == 3"}],
 "mark": {"type": "area", "color": "#ff9b9b", "opacity": 0.39},
 "encoding": {"x": {"field": "m", "type": "quantitative", "axis": {"orient": "bottom", "values": [400,600,800], "offset": -13, "tickSize": 13, "domain": false, "labels": false, "title": null}}, "y": {"field": "t", "type": "quantitative", "axis": {"orient": "left", "values": [10,20,30,40,50], "offset": -13, "tickSize": 13, "domain": false, "labels": false, "title": null}}, "y2": {"datum": 60}}},
{"data": {"name": "old"}, "transform": [{"filter": "datum.p == 3 && datum.k != 'd'"}],
 "mark": {"type": "line", "color": "black", "strokeWidth": 1},
 "encoding": {"x": {"field": "m", "type": "quantitative", "axis": null}, "y": {"field": "t", "type": "quantitative", "axis": null}, "detail": {"field": "k"}}},
{"data": {"name": "old"}, "transform": [{"filter": "datum.p == 3 && datum.k == 'd'"}],
 "mark": {"type": "line", "color": "black", "strokeWidth": 1, "strokeDash": [4, 3]},
 "encoding": {"x": {"field": "m", "type": "quantitative", "axis": null}, "y": {"field": "t", "type": "quantitative", "axis": null}}},
{"data": {"name": "exp"}, "transform": [{"filter": "datum.p == 3"}],
 "mark": {"type": "line", "color": "#2850d8", "strokeWidth": 2.2, "strokeDash": [2.5, 2.5], "interpolate": "monotone"},
 "encoding": {"x": {"field": "m", "type": "quantitative", "axis": {"orient": "bottom", "values": [500,700,900], "offset": -8, "tickSize": 8, "domain": false, "labels": false, "title": null}}, "y": {"field": "t", "type": "quantitative", "axis": {"orient": "left", "values": [5,15,25,35,45,55], "offset": -7, "tickSize": 7, "domain": false, "labels": false, "title": null}}}},
{"data": {"name": "obs"}, "transform": [{"filter": "datum.p == 3"}],
 "mark": {"type": "line", "color": "#d01c0c", "strokeWidth": 2},
 "encoding": {"x": {"field": "m", "type": "quantitative", "axis": {"orient": "top", "values": [400,600,800], "offset": -13, "tickSize": 13, "domain": false, "labels": false, "title": null}}, "y": {"field": "t", "type": "quantitative", "axis": {"orient": "right", "values": [10,20,30,40,50], "offset": -13, "tickSize": 13, "domain": false, "labels": false, "title": null}}}},
{"data": {"values": [{}]}, "mark": {"type": "text", "text": "7+8 TeV", "angle": -64, "fontWeight": "bold", "fontSize": 16, "align": "center", "baseline": "middle"}, "encoding": {"x": {"datum": 404, "axis": {"orient": "top", "values": [500,700,900], "offset": -8, "tickSize": 8, "domain": false, "labels": false, "title": null}}, "y": {"datum": 46.5, "axis": {"orient": "right", "values": [5,15,25,35,45,55], "offset": -7, "tickSize": 7, "domain": false, "labels": false, "title": null}}}},
{"data": {"values": [{}]}, "mark": {"type": "text", "text": "CMS", "fontWeight": "bold", "fontSize": 23, "align": "left", "baseline": "alphabetic", "dy": -4}, "encoding": {"x": {"datum": 300, "axis": {"orient": "bottom", "values": [350,450,550,650,750,850,950], "offset": -5, "tickSize": 5, "domain": false, "labels": false, "title": null}}, "y": {"datum": 60, "axis": null}}},
{"data": {"values": [{}]}, "mark": {"type": "text", "text": "35.7 fb⁻¹ (13 TeV)", "fontSize": 14, "align": "right", "baseline": "alphabetic", "dy": -8}, "encoding": {"x": {"datum": 1000, "axis": {"orient": "top", "values": [350,450,550,650,750,850,950], "offset": -5, "tickSize": 5, "domain": false, "labels": false, "title": null}}, "y": {"datum": 60, "axis": null}}},
{"data": {"values": [{}]}, "mark": {"type": "text", "text": "tanβ", "fontSize": 27, "angle": -90, "align": "right", "baseline": "alphabetic"}, "encoding": {"x": {"datum": 224, "axis": null}, "y": {"datum": 62.13, "axis": null}}},
{"data": {"values": [{}]}, "mark": {"type": "rect", "fill": "white"}, "encoding": {"x": {"datum": 644, "axis": null}, "x2": {"datum": 978}, "y": {"datum": 3.6, "axis": null}, "y2": {"datum": 23.5}}},
{"data": {"values": [{}]}, "mark": {"type": "text", "text": "Light-τ̃ scenario", "fontWeight": "bold", "fontSize": 17, "align": "left", "baseline": "middle"}, "encoding": {"x": {"datum": 642, "axis": null}, "y": {"datum": 21.1, "axis": null}}},
{"data": {"values": [{}]}, "mark": {"type": "rect", "fill": "#ff9b9b", "opacity": 0.39}, "encoding": {"x": {"datum": 645, "axis": null}, "x2": {"datum": 707}, "y": {"datum": 16.6, "axis": null}, "y2": {"datum": 19.0}}},
{"data": {"values": [{}]}, "mark": {"type": "rule", "color": "#d01c0c", "strokeWidth": 2}, "encoding": {"x": {"datum": 645, "axis": null}, "x2": {"datum": 707}, "y": {"datum": 17.8, "axis": null}}},
{"data": {"values": [{}]}, "mark": {"type": "rule", "color": "#2850d8", "strokeWidth": 2.2, "strokeDash": [2.5, 2.5]}, "encoding": {"x": {"datum": 645, "axis": null}, "x2": {"datum": 707}, "y": {"datum": 14.5, "axis": null}}},
{"data": {"values": [{}]}, "mark": {"type": "rect", "fill": "#00cc00"}, "encoding": {"x": {"datum": 645, "axis": null}, "x2": {"datum": 707}, "y": {"datum": 9.9, "axis": null}, "y2": {"datum": 12.3}}},
{"data": {"values": [{}]}, "mark": {"type": "rect", "fill": "#ffcc00"}, "encoding": {"x": {"datum": 645, "axis": null}, "x2": {"datum": 707}, "y": {"datum": 6.7, "axis": null}, "y2": {"datum": 9.1}}},
{"data": {"values": [{}]}, "mark": {"type": "rect", "fill": {"gradient": "linear", "x1": 0, "y1": 1, "x2": 1.205, "y2": 0.447, "stops": [{"offset":0.103,"color":"#fff"},{"offset":0.125,"color":"#8a8fb0"},{"offset":0.147,"color":"#fff"},{"offset":0.353,"color":"#fff"},{"offset":0.375,"color":"#8a8fb0"},{"offset":0.397,"color":"#fff"},{"offset":0.603,"color":"#fff"},{"offset":0.625,"color":"#8a8fb0"},{"offset":0.647,"color":"#fff"},{"offset":0.853,"color":"#fff"},{"offset":0.875,"color":"#8a8fb0"},{"offset":0.897,"color":"#fff"}]}}, "encoding": {"x": {"datum": 645, "axis": null}, "x2": {"datum": 707}, "y": {"datum": 3.4, "axis": null}, "y2": {"datum": 5.8}}},
{"data": {"values": [{}]}, "mark": {"type": "text", "text": "Observed", "fontWeight": "bold", "fontSize": 17, "align": "left", "baseline": "middle"}, "encoding": {"x": {"datum": 718, "axis": null}, "y": {"datum": 17.8, "axis": null}}},
{"data": {"values": [{}]}, "mark": {"type": "text", "text": "Expected", "fontWeight": "bold", "fontSize": 17, "align": "left", "baseline": "middle"}, "encoding": {"x": {"datum": 718, "axis": null}, "y": {"datum": 14.5, "axis": null}}},
{"data": {"values": [{}]}, "mark": {"type": "text", "text": "68% expected", "fontWeight": "bold", "fontSize": 17, "align": "left", "baseline": "middle"}, "encoding": {"x": {"datum": 718, "axis": null}, "y": {"datum": 11.1, "axis": null}}},
{"data": {"values": [{}]}, "mark": {"type": "text", "text": "95% expected", "fontWeight": "bold", "fontSize": 17, "align": "left", "baseline": "middle"}, "encoding": {"x": {"datum": 718, "axis": null}, "y": {"datum": 7.9, "axis": null}}},
{"data": {"values": [{}]}, "mark": {"type": "text", "text": "m", "fontWeight": "bold", "fontSize": 17, "align": "left", "baseline": "middle"}, "encoding": {"x": {"datum": 718, "axis": null}, "y": {"datum": 4.6, "axis": null}}},
{"data": {"values": [{}]}, "mark": {"type": "text", "text": "h,H", "fontWeight": "bold", "fontSize": 8, "align": "left", "baseline": "middle", "dx": 15, "dy": 5}, "encoding": {"x": {"datum": 718, "axis": null}, "y": {"datum": 4.6, "axis": null}}},
{"data": {"values": [{}]}, "mark": {"type": "text", "text": "≠ 125 ± 3 GeV", "fontWeight": "bold", "fontSize": 17, "align": "left", "baseline": "middle", "dx": 33}, "encoding": {"x": {"datum": 718, "axis": null}, "y": {"datum": 4.6, "axis": null}}},
{"data": {"values": [{"v":400},{"v":600},{"v":800}]}, "mark": {"type": "rule", "color": "black", "strokeWidth": 2}, "encoding": {"x": {"field": "v", "type": "quantitative", "axis": null}, "y": {"datum": 0, "axis": null}, "y2": {"datum": 1.844}}},
{"data": {"values": [{"v":400},{"v":600},{"v":800}]}, "mark": {"type": "rule", "color": "black", "strokeWidth": 2}, "encoding": {"x": {"field": "v", "type": "quantitative", "axis": null}, "y": {"datum": 60, "axis": null}, "y2": {"datum": 58.156}}},
{"data": {"values": [{"v":500},{"v":700},{"v":900}]}, "mark": {"type": "rule", "color": "black", "strokeWidth": 2}, "encoding": {"x": {"field": "v", "type": "quantitative", "axis": null}, "y": {"datum": 0, "axis": null}, "y2": {"datum": 1.135}}},
{"data": {"values": [{"v":500},{"v":700},{"v":900}]}, "mark": {"type": "rule", "color": "black", "strokeWidth": 2}, "encoding": {"x": {"field": "v", "type": "quantitative", "axis": null}, "y": {"datum": 60, "axis": null}, "y2": {"datum": 58.865}}},
{"data": {"values": [{"v":350},{"v":450},{"v":550},{"v":650},{"v":750},{"v":850},{"v":950}]}, "mark": {"type": "rule", "color": "black", "strokeWidth": 2}, "encoding": {"x": {"field": "v", "type": "quantitative", "axis": null}, "y": {"datum": 0, "axis": null}, "y2": {"datum": 0.709}}},
{"data": {"values": [{"v":350},{"v":450},{"v":550},{"v":650},{"v":750},{"v":850},{"v":950}]}, "mark": {"type": "rule", "color": "black", "strokeWidth": 2}, "encoding": {"x": {"field": "v", "type": "quantitative", "axis": null}, "y": {"datum": 60, "axis": null}, "y2": {"datum": 59.291}}},
{"data": {"values": [{"v":10},{"v":20},{"v":30},{"v":40},{"v":50}]}, "mark": {"type": "rule", "color": "black", "strokeWidth": 2}, "encoding": {"y": {"field": "v", "type": "quantitative", "axis": null}, "x": {"datum": 300, "axis": null}, "x2": {"datum": 320.6}}},
{"data": {"values": [{"v":10},{"v":20},{"v":30},{"v":40},{"v":50}]}, "mark": {"type": "rule", "color": "black", "strokeWidth": 2}, "encoding": {"y": {"field": "v", "type": "quantitative", "axis": null}, "x": {"datum": 1000, "axis": null}, "x2": {"datum": 979.4}}},
{"data": {"values": [{"v":5},{"v":15},{"v":25},{"v":35},{"v":45},{"v":55}]}, "mark": {"type": "rule", "color": "black", "strokeWidth": 2}, "encoding": {"y": {"field": "v", "type": "quantitative", "axis": null}, "x": {"datum": 300, "axis": null}, "x2": {"datum": 311.1}}},
{"data": {"values": [{"v":5},{"v":15},{"v":25},{"v":35},{"v":45},{"v":55}]}, "mark": {"type": "rule", "color": "black", "strokeWidth": 2}, "encoding": {"y": {"field": "v", "type": "quantitative", "axis": null}, "x": {"datum": 1000, "axis": null}, "x2": {"datum": 988.9}}}
]
},
{
"width": 441, "height": 423,
"resolve": {"axis": {"x": "independent", "y": "independent"}},
"layer": [
{"data": {"name": "hatch"}, "transform": [{"filter": "datum.r == 'd1'"}],
 "mark": {"type": "rect", "fill": {"gradient": "linear", "x1": 0, "y1": 1, "x2": 1.2029, "y2": 0.5769, "stops": [
{"offset":0.0187,"color":"#fff"},{"offset":0.0227,"color":"#8c8c8c"},{"offset":0.0267,"color":"#fff"},
{"offset":0.0642,"color":"#fff"},{"offset":0.0682,"color":"#8c8c8c"},{"offset":0.0722,"color":"#fff"},
{"offset":0.1096,"color":"#fff"},{"offset":0.1136,"color":"#8c8c8c"},{"offset":0.1176,"color":"#fff"},
{"offset":0.1551,"color":"#fff"},{"offset":0.1591,"color":"#8c8c8c"},{"offset":0.1631,"color":"#fff"},
{"offset":0.2005,"color":"#fff"},{"offset":0.2045,"color":"#8c8c8c"},{"offset":0.2085,"color":"#fff"},
{"offset":0.2460,"color":"#fff"},{"offset":0.2500,"color":"#8c8c8c"},{"offset":0.2540,"color":"#fff"},
{"offset":0.2915,"color":"#fff"},{"offset":0.2955,"color":"#8c8c8c"},{"offset":0.2995,"color":"#fff"},
{"offset":0.3369,"color":"#fff"},{"offset":0.3409,"color":"#8c8c8c"},{"offset":0.3449,"color":"#fff"},
{"offset":0.3824,"color":"#fff"},{"offset":0.3864,"color":"#8c8c8c"},{"offset":0.3904,"color":"#fff"},
{"offset":0.4278,"color":"#fff"},{"offset":0.4318,"color":"#8c8c8c"},{"offset":0.4358,"color":"#fff"},
{"offset":0.4733,"color":"#fff"},{"offset":0.4773,"color":"#8c8c8c"},{"offset":0.4813,"color":"#fff"},
{"offset":0.5187,"color":"#fff"},{"offset":0.5227,"color":"#8c8c8c"},{"offset":0.5267,"color":"#fff"},
{"offset":0.5642,"color":"#fff"},{"offset":0.5682,"color":"#8c8c8c"},{"offset":0.5722,"color":"#fff"},
{"offset":0.6096,"color":"#fff"},{"offset":0.6136,"color":"#8c8c8c"},{"offset":0.6176,"color":"#fff"},
{"offset":0.6551,"color":"#fff"},{"offset":0.6591,"color":"#8c8c8c"},{"offset":0.6631,"color":"#fff"},
{"offset":0.7005,"color":"#fff"},{"offset":0.7045,"color":"#8c8c8c"},{"offset":0.7085,"color":"#fff"},
{"offset":0.7460,"color":"#fff"},{"offset":0.7500,"color":"#8c8c8c"},{"offset":0.7540,"color":"#fff"},
{"offset":0.7915,"color":"#fff"},{"offset":0.7955,"color":"#8c8c8c"},{"offset":0.7995,"color":"#fff"},
{"offset":0.8369,"color":"#fff"},{"offset":0.8409,"color":"#8c8c8c"},{"offset":0.8449,"color":"#fff"},
{"offset":0.8824,"color":"#fff"},{"offset":0.8864,"color":"#8c8c8c"},{"offset":0.8904,"color":"#fff"},
{"offset":0.9278,"color":"#fff"},{"offset":0.9318,"color":"#8c8c8c"},{"offset":0.9358,"color":"#fff"},
{"offset":0.9733,"color":"#fff"},{"offset":0.9773,"color":"#8c8c8c"},{"offset":0.9813,"color":"#fff"}]}},
 "encoding": {"x": {"field": "m1", "type": "quantitative", "axis": null}, "x2": {"field": "m2"}, "y": {"field": "t1", "type": "quantitative", "axis": null}, "y2": {"field": "t2"}}},
{"data": {"name": "hatch"}, "transform": [{"filter": "datum.r == 'd2'"}],
 "mark": {"type": "rect", "fill": {"gradient": "linear", "x1": 0, "y1": 1, "x2": 0.6236, "y2": -0.1963, "stops": [
{"offset":0.0084,"color":"#fff"},{"offset":0.0104,"color":"#8c8c8c"},{"offset":0.0124,"color":"#fff"},
{"offset":0.0293,"color":"#fff"},{"offset":0.0313,"color":"#8c8c8c"},{"offset":0.0333,"color":"#fff"},
{"offset":0.0501,"color":"#fff"},{"offset":0.0521,"color":"#8c8c8c"},{"offset":0.0541,"color":"#fff"},
{"offset":0.0709,"color":"#fff"},{"offset":0.0729,"color":"#8c8c8c"},{"offset":0.0749,"color":"#fff"},
{"offset":0.0918,"color":"#fff"},{"offset":0.0938,"color":"#8c8c8c"},{"offset":0.0958,"color":"#fff"},
{"offset":0.1126,"color":"#fff"},{"offset":0.1146,"color":"#8c8c8c"},{"offset":0.1166,"color":"#fff"},
{"offset":0.1334,"color":"#fff"},{"offset":0.1354,"color":"#8c8c8c"},{"offset":0.1374,"color":"#fff"},
{"offset":0.1543,"color":"#fff"},{"offset":0.1563,"color":"#8c8c8c"},{"offset":0.1583,"color":"#fff"},
{"offset":0.1751,"color":"#fff"},{"offset":0.1771,"color":"#8c8c8c"},{"offset":0.1791,"color":"#fff"},
{"offset":0.1959,"color":"#fff"},{"offset":0.1979,"color":"#8c8c8c"},{"offset":0.1999,"color":"#fff"},
{"offset":0.2168,"color":"#fff"},{"offset":0.2188,"color":"#8c8c8c"},{"offset":0.2208,"color":"#fff"},
{"offset":0.2376,"color":"#fff"},{"offset":0.2396,"color":"#8c8c8c"},{"offset":0.2416,"color":"#fff"},
{"offset":0.2584,"color":"#fff"},{"offset":0.2604,"color":"#8c8c8c"},{"offset":0.2624,"color":"#fff"},
{"offset":0.2793,"color":"#fff"},{"offset":0.2813,"color":"#8c8c8c"},{"offset":0.2833,"color":"#fff"},
{"offset":0.3001,"color":"#fff"},{"offset":0.3021,"color":"#8c8c8c"},{"offset":0.3041,"color":"#fff"},
{"offset":0.3209,"color":"#fff"},{"offset":0.3229,"color":"#8c8c8c"},{"offset":0.3249,"color":"#fff"},
{"offset":0.3418,"color":"#fff"},{"offset":0.3438,"color":"#8c8c8c"},{"offset":0.3458,"color":"#fff"},
{"offset":0.3626,"color":"#fff"},{"offset":0.3646,"color":"#8c8c8c"},{"offset":0.3666,"color":"#fff"},
{"offset":0.3834,"color":"#fff"},{"offset":0.3854,"color":"#8c8c8c"},{"offset":0.3874,"color":"#fff"},
{"offset":0.4043,"color":"#fff"},{"offset":0.4063,"color":"#8c8c8c"},{"offset":0.4083,"color":"#fff"},
{"offset":0.4251,"color":"#fff"},{"offset":0.4271,"color":"#8c8c8c"},{"offset":0.4291,"color":"#fff"},
{"offset":0.4459,"color":"#fff"},{"offset":0.4479,"color":"#8c8c8c"},{"offset":0.4499,"color":"#fff"},
{"offset":0.4668,"color":"#fff"},{"offset":0.4688,"color":"#8c8c8c"},{"offset":0.4708,"color":"#fff"},
{"offset":0.4876,"color":"#fff"},{"offset":0.4896,"color":"#8c8c8c"},{"offset":0.4916,"color":"#fff"},
{"offset":0.5084,"color":"#fff"},{"offset":0.5104,"color":"#8c8c8c"},{"offset":0.5124,"color":"#fff"},
{"offset":0.5293,"color":"#fff"},{"offset":0.5313,"color":"#8c8c8c"},{"offset":0.5333,"color":"#fff"},
{"offset":0.5501,"color":"#fff"},{"offset":0.5521,"color":"#8c8c8c"},{"offset":0.5541,"color":"#fff"},
{"offset":0.5709,"color":"#fff"},{"offset":0.5729,"color":"#8c8c8c"},{"offset":0.5749,"color":"#fff"},
{"offset":0.5918,"color":"#fff"},{"offset":0.5938,"color":"#8c8c8c"},{"offset":0.5958,"color":"#fff"},
{"offset":0.6126,"color":"#fff"},{"offset":0.6146,"color":"#8c8c8c"},{"offset":0.6166,"color":"#fff"},
{"offset":0.6334,"color":"#fff"},{"offset":0.6354,"color":"#8c8c8c"},{"offset":0.6374,"color":"#fff"},
{"offset":0.6543,"color":"#fff"},{"offset":0.6563,"color":"#8c8c8c"},{"offset":0.6583,"color":"#fff"},
{"offset":0.6751,"color":"#fff"},{"offset":0.6771,"color":"#8c8c8c"},{"offset":0.6791,"color":"#fff"},
{"offset":0.6959,"color":"#fff"},{"offset":0.6979,"color":"#8c8c8c"},{"offset":0.6999,"color":"#fff"},
{"offset":0.7168,"color":"#fff"},{"offset":0.7188,"color":"#8c8c8c"},{"offset":0.7208,"color":"#fff"},
{"offset":0.7376,"color":"#fff"},{"offset":0.7396,"color":"#8c8c8c"},{"offset":0.7416,"color":"#fff"},
{"offset":0.7584,"color":"#fff"},{"offset":0.7604,"color":"#8c8c8c"},{"offset":0.7624,"color":"#fff"},
{"offset":0.7793,"color":"#fff"},{"offset":0.7813,"color":"#8c8c8c"},{"offset":0.7833,"color":"#fff"},
{"offset":0.8001,"color":"#fff"},{"offset":0.8021,"color":"#8c8c8c"},{"offset":0.8041,"color":"#fff"},
{"offset":0.8209,"color":"#fff"},{"offset":0.8229,"color":"#8c8c8c"},{"offset":0.8249,"color":"#fff"},
{"offset":0.8418,"color":"#fff"},{"offset":0.8438,"color":"#8c8c8c"},{"offset":0.8458,"color":"#fff"},
{"offset":0.8626,"color":"#fff"},{"offset":0.8646,"color":"#8c8c8c"},{"offset":0.8666,"color":"#fff"},
{"offset":0.8834,"color":"#fff"},{"offset":0.8854,"color":"#8c8c8c"},{"offset":0.8874,"color":"#fff"},
{"offset":0.9043,"color":"#fff"},{"offset":0.9063,"color":"#8c8c8c"},{"offset":0.9083,"color":"#fff"},
{"offset":0.9251,"color":"#fff"},{"offset":0.9271,"color":"#8c8c8c"},{"offset":0.9291,"color":"#fff"},
{"offset":0.9459,"color":"#fff"},{"offset":0.9479,"color":"#8c8c8c"},{"offset":0.9499,"color":"#fff"},
{"offset":0.9668,"color":"#fff"},{"offset":0.9688,"color":"#8c8c8c"},{"offset":0.9708,"color":"#fff"},
{"offset":0.9876,"color":"#fff"},{"offset":0.9896,"color":"#8c8c8c"},{"offset":0.9916,"color":"#fff"}]}},
 "encoding": {"x": {"field": "m1", "type": "quantitative", "axis": null}, "x2": {"field": "m2"}, "y": {"field": "t1", "type": "quantitative", "axis": null}, "y2": {"field": "t2"}}},
{"data": {"name": "bands"}, "transform": [{"filter": "datum.p == 4 && datum.b == 95"}],
 "mark": {"type": "area", "color": "#ffcc00"},
 "encoding": {
  "x": {"field": "m", "type": "quantitative", "scale": {"domain": [300, 1000], "nice": false, "zero": false},
   "axis": {"orient": "bottom", "values": [400,600,800,1000], "format": "d", "ticks": false, "domain": true, "labelPadding": 6, "labelFontSize": 21, "labelFlush": false, "labelOverlap": false, "title": "mA [GeV]", "titleFontSize": 26, "titleFontWeight": "normal", "titleAnchor": "end", "titleAlign": "right", "titleBaseline": "alphabetic", "titleX": 441, "titleY": 58}},
  "y": {"field": "lo", "type": "quantitative", "scale": {"domain": [0, 60], "nice": false, "zero": false},
   "axis": {"orient": "left", "values": [0,10,20,30,40,50,60], "ticks": false, "domain": true, "labelPadding": 4, "labelFontSize": 21, "labelFlush": false, "labelOverlap": false, "title": null}},
  "y2": {"field": "hi"}}},
{"data": {"name": "bands"}, "transform": [{"filter": "datum.p == 4 && datum.b == 68"}],
 "mark": {"type": "area", "color": "#00cc00"},
 "encoding": {
  "x": {"field": "m", "type": "quantitative", "axis": {"orient": "top", "domain": true, "ticks": false, "labels": false, "title": null}},
  "y": {"field": "lo", "type": "quantitative", "axis": {"orient": "right", "domain": true, "ticks": false, "labels": false, "title": null}},
  "y2": {"field": "hi"}}},
{"data": {"name": "obs"}, "transform": [{"filter": "datum.p == 4"}],
 "mark": {"type": "area", "color": "#ff9b9b", "opacity": 0.39},
 "encoding": {"x": {"field": "m", "type": "quantitative", "axis": {"orient": "bottom", "values": [400,600,800], "offset": -13, "tickSize": 13, "domain": false, "labels": false, "title": null}}, "y": {"field": "t", "type": "quantitative", "axis": {"orient": "left", "values": [10,20,30,40,50], "offset": -13, "tickSize": 13, "domain": false, "labels": false, "title": null}}, "y2": {"datum": 60}}},
{"data": {"name": "old"}, "transform": [{"filter": "datum.p == 4 && datum.k != 'd'"}],
 "mark": {"type": "line", "color": "black", "strokeWidth": 1},
 "encoding": {"x": {"field": "m", "type": "quantitative", "axis": null}, "y": {"field": "t", "type": "quantitative", "axis": null}, "detail": {"field": "k"}}},
{"data": {"name": "old"}, "transform": [{"filter": "datum.p == 4 && datum.k == 'd'"}],
 "mark": {"type": "line", "color": "black", "strokeWidth": 1, "strokeDash": [4, 3]},
 "encoding": {"x": {"field": "m", "type": "quantitative", "axis": null}, "y": {"field": "t", "type": "quantitative", "axis": null}}},
{"data": {"name": "exp"}, "transform": [{"filter": "datum.p == 4"}],
 "mark": {"type": "line", "color": "#2850d8", "strokeWidth": 2.2, "strokeDash": [2.5, 2.5], "interpolate": "monotone"},
 "encoding": {"x": {"field": "m", "type": "quantitative", "axis": {"orient": "bottom", "values": [500,700,900], "offset": -8, "tickSize": 8, "domain": false, "labels": false, "title": null}}, "y": {"field": "t", "type": "quantitative", "axis": {"orient": "left", "values": [5,15,25,35,45,55], "offset": -7, "tickSize": 7, "domain": false, "labels": false, "title": null}}}},
{"data": {"name": "obs"}, "transform": [{"filter": "datum.p == 4"}],
 "mark": {"type": "line", "color": "#d01c0c", "strokeWidth": 2},
 "encoding": {"x": {"field": "m", "type": "quantitative", "axis": {"orient": "top", "values": [400,600,800], "offset": -13, "tickSize": 13, "domain": false, "labels": false, "title": null}}, "y": {"field": "t", "type": "quantitative", "axis": {"orient": "right", "values": [10,20,30,40,50], "offset": -13, "tickSize": 13, "domain": false, "labels": false, "title": null}}}},
{"data": {"values": [{}]}, "mark": {"type": "text", "text": "7+8 TeV", "angle": -74, "fontWeight": "bold", "fontSize": 16, "align": "center", "baseline": "middle"}, "encoding": {"x": {"datum": 353, "axis": {"orient": "top", "values": [500,700,900], "offset": -8, "tickSize": 8, "domain": false, "labels": false, "title": null}}, "y": {"datum": 49.8, "axis": {"orient": "right", "values": [5,15,25,35,45,55], "offset": -7, "tickSize": 7, "domain": false, "labels": false, "title": null}}}},
{"data": {"values": [{}]}, "mark": {"type": "text", "text": "CMS", "fontWeight": "bold", "fontSize": 23, "align": "left", "baseline": "alphabetic", "dy": -4}, "encoding": {"x": {"datum": 300, "axis": {"orient": "bottom", "values": [350,450,550,650,750,850,950], "offset": -5, "tickSize": 5, "domain": false, "labels": false, "title": null}}, "y": {"datum": 60, "axis": null}}},
{"data": {"values": [{}]}, "mark": {"type": "text", "text": "35.7 fb⁻¹ (13 TeV)", "fontSize": 14, "align": "right", "baseline": "alphabetic", "dy": -8}, "encoding": {"x": {"datum": 1000, "axis": {"orient": "top", "values": [350,450,550,650,750,850,950], "offset": -5, "tickSize": 5, "domain": false, "labels": false, "title": null}}, "y": {"datum": 60, "axis": null}}},
{"data": {"values": [{}]}, "mark": {"type": "text", "text": "tanβ", "fontSize": 27, "angle": -90, "align": "right", "baseline": "alphabetic"}, "encoding": {"x": {"datum": 224, "axis": null}, "y": {"datum": 62.13, "axis": null}}},
{"data": {"values": [{}]}, "mark": {"type": "rect", "fill": "white"}, "encoding": {"x": {"datum": 640, "axis": null}, "x2": {"datum": 976}, "y": {"datum": 2.2, "axis": null}, "y2": {"datum": 23}}},
{"data": {"values": [{}]}, "mark": {"type": "text", "text": "Light-t̃ scenario", "fontWeight": "bold", "fontSize": 17, "align": "left", "baseline": "middle"}, "encoding": {"x": {"datum": 642, "axis": null}, "y": {"datum": 21.1, "axis": null}}},
{"data": {"values": [{}]}, "mark": {"type": "rect", "fill": "#ff9b9b", "opacity": 0.39}, "encoding": {"x": {"datum": 645, "axis": null}, "x2": {"datum": 706}, "y": {"datum": 16.6, "axis": null}, "y2": {"datum": 19.0}}},
{"data": {"values": [{}]}, "mark": {"type": "rule", "color": "#d01c0c", "strokeWidth": 2}, "encoding": {"x": {"datum": 645, "axis": null}, "x2": {"datum": 706}, "y": {"datum": 17.8, "axis": null}}},
{"data": {"values": [{}]}, "mark": {"type": "rule", "color": "#2850d8", "strokeWidth": 2.2, "strokeDash": [2.5, 2.5]}, "encoding": {"x": {"datum": 645, "axis": null}, "x2": {"datum": 706}, "y": {"datum": 14.5, "axis": null}}},
{"data": {"values": [{}]}, "mark": {"type": "rect", "fill": "#00cc00"}, "encoding": {"x": {"datum": 645, "axis": null}, "x2": {"datum": 706}, "y": {"datum": 9.9, "axis": null}, "y2": {"datum": 12.3}}},
{"data": {"values": [{}]}, "mark": {"type": "rect", "fill": "#ffcc00"}, "encoding": {"x": {"datum": 645, "axis": null}, "x2": {"datum": 706}, "y": {"datum": 6.7, "axis": null}, "y2": {"datum": 9.1}}},
{"data": {"values": [{}]}, "mark": {"type": "rect", "fill": {"gradient": "linear", "x1": 0, "y1": 1, "x2": 1.205, "y2": 0.447, "stops": [{"offset":0.103,"color":"#fff"},{"offset":0.125,"color":"#8a8fb0"},{"offset":0.147,"color":"#fff"},{"offset":0.353,"color":"#fff"},{"offset":0.375,"color":"#8a8fb0"},{"offset":0.397,"color":"#fff"},{"offset":0.603,"color":"#fff"},{"offset":0.625,"color":"#8a8fb0"},{"offset":0.647,"color":"#fff"},{"offset":0.853,"color":"#fff"},{"offset":0.875,"color":"#8a8fb0"},{"offset":0.897,"color":"#fff"}]}}, "encoding": {"x": {"datum": 645, "axis": null}, "x2": {"datum": 706}, "y": {"datum": 3.4, "axis": null}, "y2": {"datum": 5.8}}},
{"data": {"values": [{}]}, "mark": {"type": "text", "text": "Observed", "fontWeight": "bold", "fontSize": 17, "align": "left", "baseline": "middle"}, "encoding": {"x": {"datum": 719, "axis": null}, "y": {"datum": 17.8, "axis": null}}},
{"data": {"values": [{}]}, "mark": {"type": "text", "text": "Expected", "fontWeight": "bold", "fontSize": 17, "align": "left", "baseline": "middle"}, "encoding": {"x": {"datum": 719, "axis": null}, "y": {"datum": 14.5, "axis": null}}},
{"data": {"values": [{}]}, "mark": {"type": "text", "text": "68% expected", "fontWeight": "bold", "fontSize": 17, "align": "left", "baseline": "middle"}, "encoding": {"x": {"datum": 719, "axis": null}, "y": {"datum": 11.1, "axis": null}}},
{"data": {"values": [{}]}, "mark": {"type": "text", "text": "95% expected", "fontWeight": "bold", "fontSize": 17, "align": "left", "baseline": "middle"}, "encoding": {"x": {"datum": 719, "axis": null}, "y": {"datum": 7.9, "axis": null}}},
{"data": {"values": [{}]}, "mark": {"type": "text", "text": "m", "fontWeight": "bold", "fontSize": 17, "align": "left", "baseline": "middle"}, "encoding": {"x": {"datum": 719, "axis": null}, "y": {"datum": 4.6, "axis": null}}},
{"data": {"values": [{}]}, "mark": {"type": "text", "text": "h,H", "fontWeight": "bold", "fontSize": 8, "align": "left", "baseline": "middle", "dx": 15, "dy": 5}, "encoding": {"x": {"datum": 719, "axis": null}, "y": {"datum": 4.6, "axis": null}}},
{"data": {"values": [{}]}, "mark": {"type": "text", "text": "≠ 125 ± 3 GeV", "fontWeight": "bold", "fontSize": 17, "align": "left", "baseline": "middle", "dx": 33}, "encoding": {"x": {"datum": 719, "axis": null}, "y": {"datum": 4.6, "axis": null}}},
{"data": {"values": [{"v":400},{"v":600},{"v":800}]}, "mark": {"type": "rule", "color": "black", "strokeWidth": 2}, "encoding": {"x": {"field": "v", "type": "quantitative", "axis": null}, "y": {"datum": 0, "axis": null}, "y2": {"datum": 1.844}}},
{"data": {"values": [{"v":400},{"v":600},{"v":800}]}, "mark": {"type": "rule", "color": "black", "strokeWidth": 2}, "encoding": {"x": {"field": "v", "type": "quantitative", "axis": null}, "y": {"datum": 60, "axis": null}, "y2": {"datum": 58.156}}},
{"data": {"values": [{"v":500},{"v":700},{"v":900}]}, "mark": {"type": "rule", "color": "black", "strokeWidth": 2}, "encoding": {"x": {"field": "v", "type": "quantitative", "axis": null}, "y": {"datum": 0, "axis": null}, "y2": {"datum": 1.135}}},
{"data": {"values": [{"v":500},{"v":700},{"v":900}]}, "mark": {"type": "rule", "color": "black", "strokeWidth": 2}, "encoding": {"x": {"field": "v", "type": "quantitative", "axis": null}, "y": {"datum": 60, "axis": null}, "y2": {"datum": 58.865}}},
{"data": {"values": [{"v":350},{"v":450},{"v":550},{"v":650},{"v":750},{"v":850},{"v":950}]}, "mark": {"type": "rule", "color": "black", "strokeWidth": 2}, "encoding": {"x": {"field": "v", "type": "quantitative", "axis": null}, "y": {"datum": 0, "axis": null}, "y2": {"datum": 0.709}}},
{"data": {"values": [{"v":350},{"v":450},{"v":550},{"v":650},{"v":750},{"v":850},{"v":950}]}, "mark": {"type": "rule", "color": "black", "strokeWidth": 2}, "encoding": {"x": {"field": "v", "type": "quantitative", "axis": null}, "y": {"datum": 60, "axis": null}, "y2": {"datum": 59.291}}},
{"data": {"values": [{"v":10},{"v":20},{"v":30},{"v":40},{"v":50}]}, "mark": {"type": "rule", "color": "black", "strokeWidth": 2}, "encoding": {"y": {"field": "v", "type": "quantitative", "axis": null}, "x": {"datum": 300, "axis": null}, "x2": {"datum": 320.6}}},
{"data": {"values": [{"v":10},{"v":20},{"v":30},{"v":40},{"v":50}]}, "mark": {"type": "rule", "color": "black", "strokeWidth": 2}, "encoding": {"y": {"field": "v", "type": "quantitative", "axis": null}, "x": {"datum": 1000, "axis": null}, "x2": {"datum": 979.4}}},
{"data": {"values": [{"v":5},{"v":15},{"v":25},{"v":35},{"v":45},{"v":55}]}, "mark": {"type": "rule", "color": "black", "strokeWidth": 2}, "encoding": {"y": {"field": "v", "type": "quantitative", "axis": null}, "x": {"datum": 300, "axis": null}, "x2": {"datum": 311.1}}},
{"data": {"values": [{"v":5},{"v":15},{"v":25},{"v":35},{"v":45},{"v":55}]}, "mark": {"type": "rule", "color": "black", "strokeWidth": 2}, "encoding": {"y": {"field": "v", "type": "quantitative", "axis": null}, "x": {"datum": 1000, "axis": null}, "x2": {"datum": 988.9}}}
]
}
]
}
